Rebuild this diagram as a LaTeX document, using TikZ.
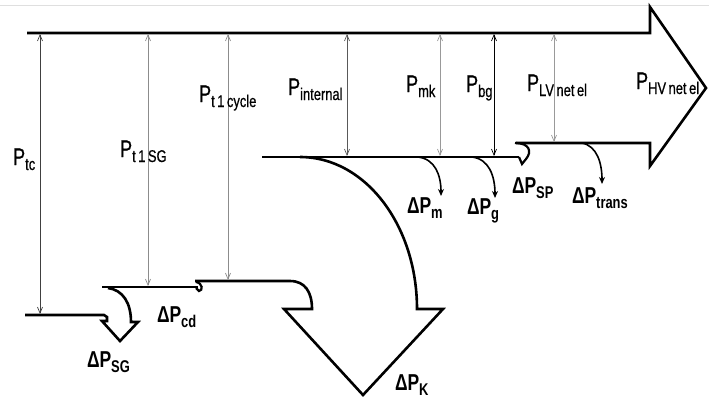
\documentclass[tikz,border=0pt]{standalone}
\usepackage{fontspec}
\setmainfont{Liberation Sans}[FakeStretch=0.76]
\newfontfamily\plabfont{Liberation Sans}[FakeStretch=0.76, FakeBold=0.6]
\usetikzlibrary{arrows.meta}
\newcommand\PLab[1]{\plabfont\fontsize{24}{24}\selectfont P\raisebox{-5pt}{\fontsize{17}{17}\selectfont #1}}
\newcommand\DLab[1]{\bfseries\fontsize{23}{23}\selectfont ΔP\raisebox{-5pt}{\fontsize{17}{17}\selectfont #1}}
\newcommand\gapsp{\hspace{2.5pt}}
\tikzset{
  flow/.style={line width=2.6pt, line join=miter, line cap=butt},
  loss/.style={line width=1.6pt, -{Stealth[length=7pt,width=6pt]}},
  dim/.style={line width=0.7pt, {Straight Barb[length=6pt,width=5pt]}-{Straight Barb[length=6pt,width=5pt]}},
  lab/.style={anchor=base west, inner sep=0pt, outer sep=0pt}
}
\begin{document}
\begin{tikzpicture}[x=1pt,y=-1pt]
\useasboundingbox (0,0) rectangle (709,400);
\draw[gray!25, line width=0.8pt] (0,5) -- (709,5);
% main arrow
\draw[flow] (27,33) -- (650,33) -- (650,7) -- (706,88) -- (650,166) -- (650,143) -- (516,143);
% internal line
\draw[flow] (262,157) -- (519,157);
% condenser (t1 cycle) line and K arrow
\draw[flow] (195,281) -- (290,281) .. controls (305,281) and (312,292) .. (312,309) -- (284,309) -- (363,395) -- (443,309) -- (417,309) .. controls (417,225) and (365,157) .. (300,157);
% t1 SG line
\draw[flow] (102,287) -- (198,287);
% cd hook
\draw[line width=2.2pt] (196,282) .. controls (203,283) and (203,291) .. (199,291) -- (196,288);
% SG arrow
\draw[flow] (25,315) -- (104,315) -- (107,317) -- (107,321) -- (102,321) -- (120,341) -- (138,322) -- (131,322) .. controls (131,303) and (123,290) .. (108,288);
% SP hook
\draw[line width=2.2pt] (515,143) .. controls (530,143) and (532,152) .. (526,159) -- (522,164) -- (519,157);
% small loss arrows
\coordinate (mS) at (418,157); \coordinate (mE) at (441,196);
\coordinate (gS) at (472,157); \coordinate (gE) at (495,198);
\coordinate (trS) at (582,143); \coordinate (trE) at (602,184);
\draw[loss] (mS) .. controls (435,159) and (441,175) .. (mE);
\draw[loss] (gS) .. controls (489,159) and (495,176) .. (gE);
\draw[loss] (trS) .. controls (597,146) and (602,163) .. (trE);
% dimension arrows
\coordinate (tcT) at (40,34); \coordinate (tcB) at (40,314);
\coordinate (sgT) at (148,34); \coordinate (sgB) at (148,286);
\coordinate (cyT) at (228,34); \coordinate (cyB) at (228,280);
\coordinate (inT) at (347,34); \coordinate (inB) at (347,156);
\coordinate (mkT) at (440,34); \coordinate (mkB) at (440,156);
\coordinate (bgT) at (494,34); \coordinate (bgB) at (494,156);
\coordinate (lvT) at (554,34); \coordinate (lvB) at (554,142);
\draw[dim, black!75] (tcT) -- (tcB);
\draw[dim, black!45] (sgT) -- (sgB);
\draw[dim, black!45] (cyT) -- (cyB);
\draw[dim, black!65] (inT) -- (inB);
\draw[dim, black!40] (mkT) -- (mkB);
\draw[dim, black] (bgT) -- (bgB);
\draw[dim, black!40] (lvT) -- (lvB);
% labels
\node[lab] (ptc) at (13,165) {\PLab{tc}};
\node[lab] (psg) at (120,157) {\PLab{t\gapsp 1\gapsp SG}};
\node[lab] (pcy) at (199,102) {\PLab{t\gapsp 1\gapsp cycle}};
\node[lab] (pin) at (288,95) {\PLab{internal}};
\node[lab] (pmk) at (406,92) {\PLab{mk}};
\node[lab] (pbg) at (466,92) {\PLab{bg}};
\node[lab] (plv) at (527,91) {\PLab{LV\gapsp net\gapsp el}};
\node[lab] (phv) at (636,89) {\PLab{HV\gapsp net\gapsp el}};
\node[lab] (dsg) at (87,367) {\DLab{SG}};
\node[lab] (dcd) at (157,322) {\DLab{cd}};
\node[lab] (dk) at (395,390) {\DLab{K}};
\node[lab] (dm) at (407,213) {\DLab{m}};
\node[lab] (dg) at (467,214) {\DLab{g}};
\node[lab] (dsp) at (512,193) {\DLab{SP}};
\node[lab] (dtr) at (572,203) {\DLab{trans}};
\end{tikzpicture}
\end{document}
